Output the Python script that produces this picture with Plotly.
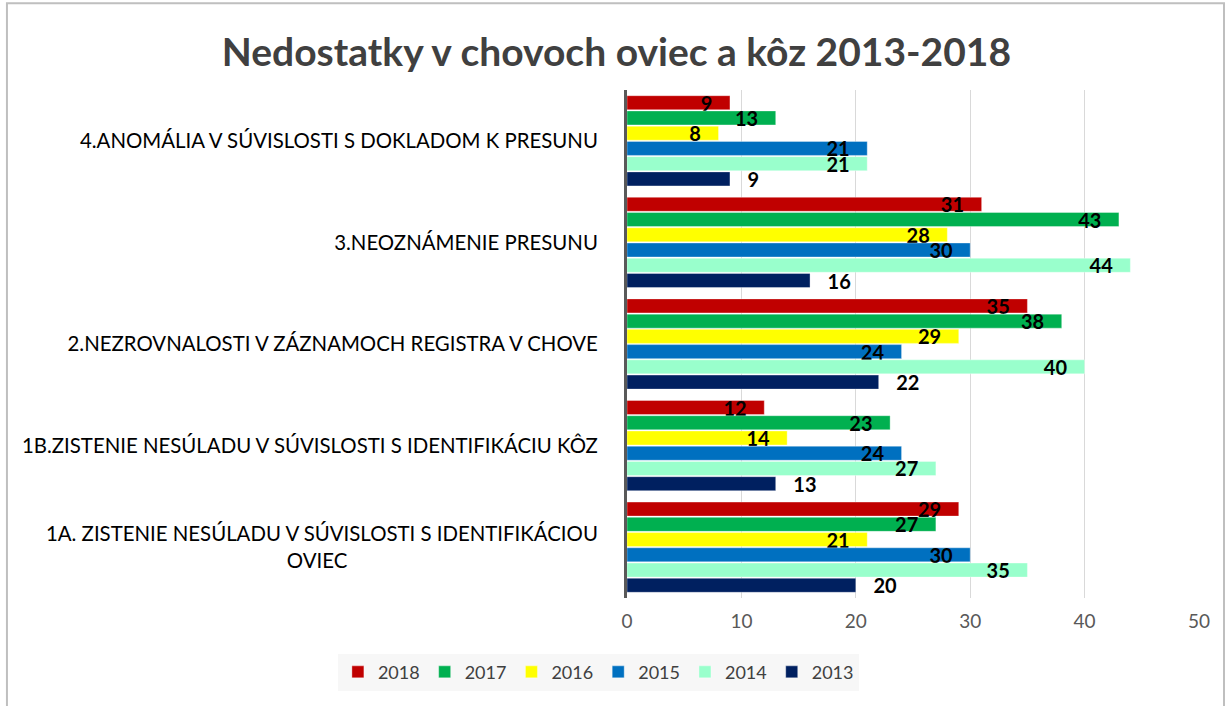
import plotly.graph_objects as go

categories = [
    "4.ANOMÁLIA V SÚVISLOSTI S DOKLADOM K PRESUNU",
    "3.NEOZNÁMENIE PRESUNU",
    "2.NEZROVNALOSTI V ZÁZNAMOCH REGISTRA V CHOVE",
    "1B.ZISTENIE NESÚLADU V SÚVISLOSTI S IDENTIFIKÁCIU KÔZ",
    "1A. ZISTENIE NESÚLADU V SÚVISLOSTI S IDENTIFIKÁCIOU<br>OVIEC" + "\u00a0" * 48,
]
years = ["2018", "2017", "2016", "2015", "2014", "2013"]
values_2018 = [9, 31, 35, 12, 29]
values_2017 = [13, 43, 38, 23, 27]
values_2016 = [8, 28, 29, 14, 21]
values_2015 = [21, 30, 24, 24, 30]
values_2014 = [21, 44, 40, 27, 35]
values_2013 = [9, 16, 22, 13, 20]
series = [values_2018, values_2017, values_2016, values_2015, values_2014, values_2013]
colors = ["#C00000", "#00B050", "#FFFF00", "#0070C0", "#99FFCC", "#002060"]

FONT = "Lato"
lblfont = dict(family=FONT, size=20, color="black", weight="bold")

fig = go.Figure()
for name, vals, col in zip(years, series, colors):
    if name == "2013":
        txt = ["\u00a0\u00a0\u00a0" + str(v) for v in vals]
        pos = "outside"
    else:
        txt = [str(v) + "\u00a0\u00a0\u00a0" for v in vals]
        pos = "inside"
    fig.add_trace(go.Bar(
        name=name, y=categories, x=vals, orientation="h",
        marker=dict(color=col, line=dict(color="rgba(255,255,255,0.35)", width=1)),
        text=txt, textposition=pos, insidetextanchor="end", textangle=0,
        constraintext="none", cliponaxis=False,
        textfont=lblfont, insidetextfont=lblfont, outsidetextfont=lblfont,
    ))

fig.update_layout(
    width=1228, height=706,
    barmode="group", bargap=0.1, bargroupgap=0.08,
    margin=dict(l=627, r=29, t=90, b=108, autoexpand=False),
    paper_bgcolor="white", plot_bgcolor="white",
    title=dict(text="<b>Nedostatky v chovoch oviec a kôz 2013-2018</b>",
               x=0.502, xanchor="center", y=0.926, yanchor="middle",
               font=dict(family=FONT, size=39, color="#404040")),
    font=dict(family=FONT),
    xaxis=dict(range=[0, 50], tickvals=[0, 10, 20, 30, 40, 50], automargin=False,
               showgrid=True, gridcolor="#d9d9d9", gridwidth=1.3,
               zeroline=False, showline=False,
               tickfont=dict(family=FONT, size=19, color="#595959"),
               ticklabelstandoff=10),
    yaxis=dict(autorange="reversed", showline=True, linecolor="#595959", linewidth=3,
               showgrid=False, ticks="", automargin=False,
               tickfont=dict(family=FONT, size=20.4, color="black"),
               ticklabelstandoff=22),
    legend=dict(orientation="h", x=-0.05, xanchor="center", y=-0.146, yanchor="middle",
                bgcolor="#f7f7f7", font=dict(family=FONT, size=18, color="#404040"),
                itemwidth=30, traceorder="normal"),
    shapes=[dict(type="rect", xref="paper", yref="paper",
                 x0=-1.084, x1=1.0437, y0=-0.22, y1=1.171,
                 line=dict(color="#bfbfbf", width=2), layer="below")],
)

fig.write_html("out.html", config={"displayModeBar": False},
               post_script="document.body.style.margin='0';")
